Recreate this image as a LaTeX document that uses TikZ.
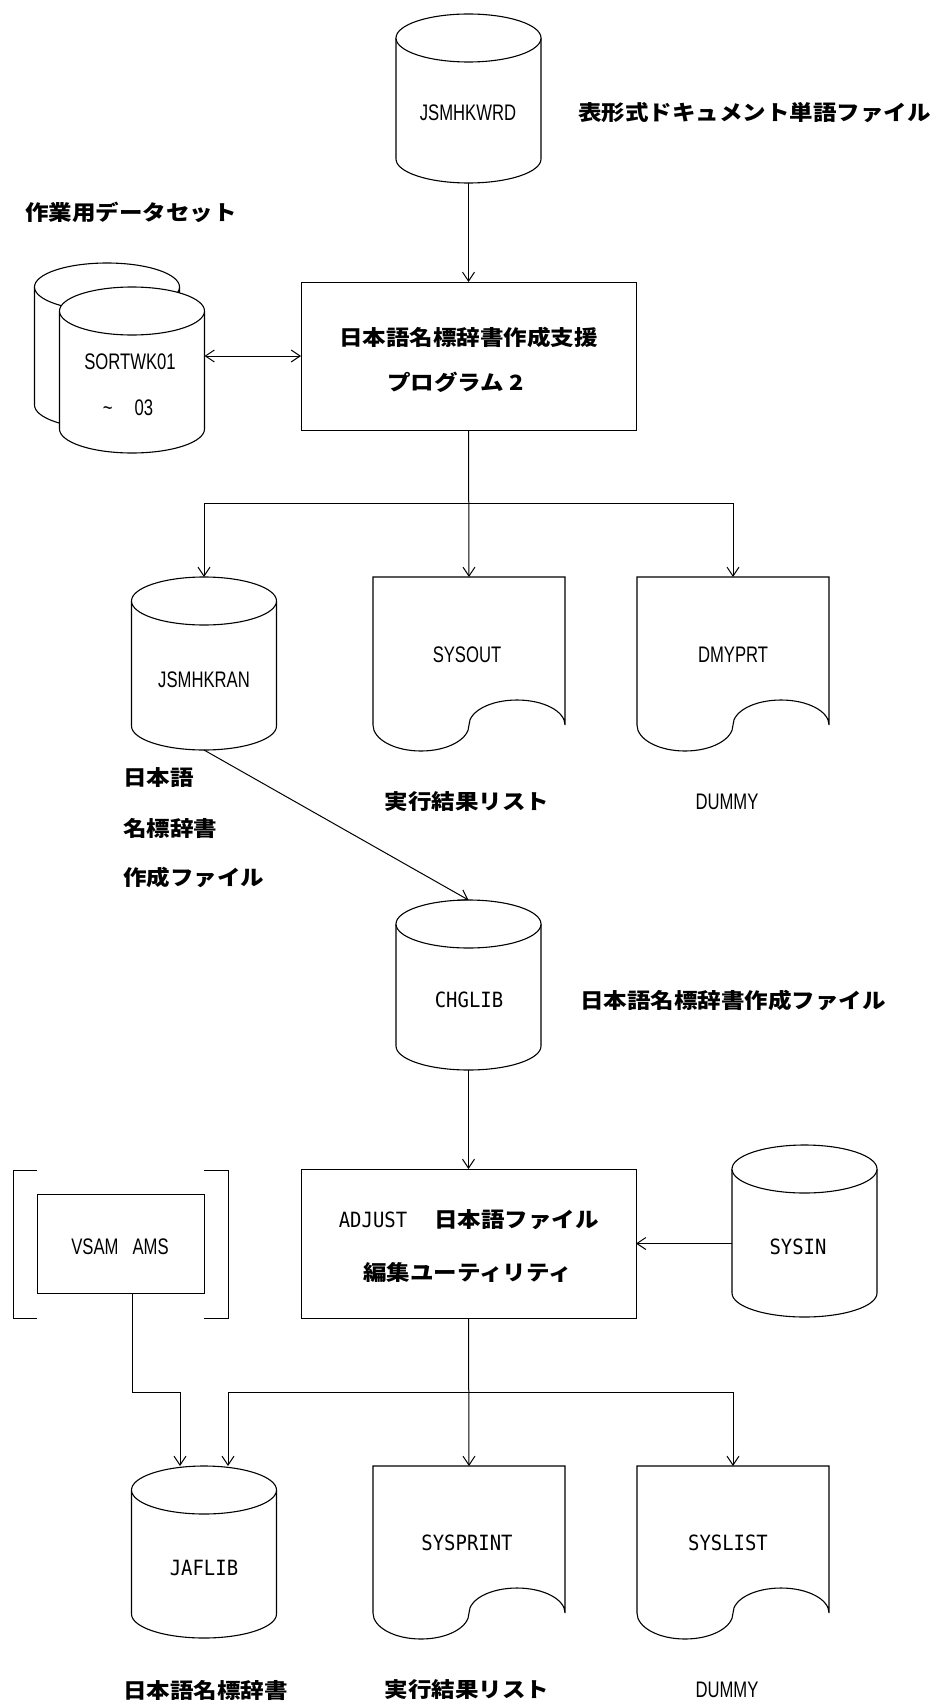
\documentclass[tikz,border=0pt]{standalone}
\usepackage{fontspec}
\usetikzlibrary{arrows.meta,calc}
\newfontfamily\cjk[FakeStretch=1.12]{Noto Sans CJK JP}
\newfontfamily\lsans[FakeStretch=0.74]{Liberation Sans}
\newfontfamily\lmono[FakeStretch=0.9]{DejaVu Sans Mono}
\tikzset{
  shp/.style={line width=1.1pt, fill=white},
  barb/.tip={Straight Barb[length=9pt,width=12pt,line width=1pt]},
  arr/.style={line width=1pt, -barb},
  arrboth/.style={line width=1pt, barb-barb},
  conn/.style={line width=1pt},
  jp/.style={font=\cjk\bfseries\fontsize{21}{21}\selectfont, inner sep=0},
  lab/.style={font=\lsans\fontsize{22.5}{22.5}\selectfont, inner sep=0},
  mono/.style={font=\lmono\fontsize{21}{21}\selectfont, inner sep=0},
  frame/.style={draw=none, inner sep=0, outer sep=0},
  boxs/.style={draw, line width=0.9pt, fill=white, inner sep=0, outer sep=0},
}
\newcommand\dbcyl[4]{%
  \node[frame, minimum width=145pt, minimum height={#4-#3}] (#1) at (#2,{(#3+#4)/2}) {};
  \draw[shp] ({#2-72.5},{#3+24}) -- ({#2-72.5},{#4-24}) arc[start angle=180,end angle=360,x radius=72.5pt,y radius=24pt] -- ({#2+72.5},{#3+24});
  \draw[shp] (#2,{#3+24}) ellipse[x radius=72.5pt,y radius=24pt];
}
\newcommand\docshape[5]{%
  \node[frame, minimum width={#3-#2}, minimum height={#5-#4}] (#1) at ({(#2+#3)/2},{(#4+#5)/2}) {};
  \draw[shp] (#2,#5) -- (#2,#4) -- (#3,#4) -- (#3,#5) arc[start angle=0,end angle=180,x radius=48pt,y radius=25pt] arc[start angle=0,end angle=-180,x radius=48pt,y radius=26pt] -- cycle;
}
\begin{document}
\begin{tikzpicture}[x=1pt,y=-1pt]
\useasboundingbox (0,0) rectangle (940,1704);

% top input
\dbcyl{jsmhkwrd}{468.5}{14}{183}
\node[lab] (tjsmhkwrd) at (468,113) {JSMHKWRD};
\node[jp, anchor=west] (ljsmhkwrd) at (578,113) {表形式ドキュメント単語ファイル};

% work datasets
\node[jp, anchor=west] (lwork) at (25,212) {作業用データセット};
\dbcyl{sortback}{107}{263}{429}
\dbcyl{sortwk}{132}{287}{453}
\node[lab] (tsort1) at (130,362) {SORTWK01};
\node[lab] (tsort2) at (128,408) {\textasciitilde\hspace{22pt}03};

% program 1
\node[boxs, minimum width=335pt, minimum height=148pt] (box1) at (468.5,356) {};
\node[jp] (tbox1a) at (468.5,337) {日本語名標辞書作成支援};
\node[jp, anchor=west] (tbox1b) at (387,382) {プログラム 2};

\draw[arr] (jsmhkwrd.south) -- (box1.north);
\draw[arrboth] (sortwk.east |- box1.west) -- (box1.west);

% outputs 1
\dbcyl{jsmhkran}{204}{577}{750}
\docshape{sysout}{373}{565}{577}{725}
\docshape{dmyprt}{637}{829}{577}{725}
\node[lab] (tjsmhkran) at (204,680) {JSMHKRAN};
\node[lab] (tsysout) at (467,655) {SYSOUT};
\node[lab] (tdmyprt) at (733,655) {DMYPRT};
\coordinate (br1) at (468.5,503);
\draw[arr] (box1.south) -- (sysout.north);
\draw[arr] (br1) -| (jsmhkran.north);
\draw[arr] (br1) -| (dmyprt.north);

\node[jp, anchor=west] (lran1) at (123,778) {日本語};
\node[jp, anchor=west] (lran2) at (123,828) {名標辞書};
\node[jp, anchor=west] (lran3) at (123,877) {作成ファイル};
\node[jp] (lsysout) at (467,802) {実行結果リスト};
\node[lab] (ldmy1) at (727,802) {DUMMY};

% CHGLIB
\dbcyl{chglib}{468.5}{900}{1070}
\node[mono] (tchglib) at (469,1000) {CHGLIB};
\node[jp, anchor=west] (lchglib) at (580,1000) {日本語名標辞書作成ファイル};
\draw[arr] (jsmhkran.south) -- (chglib.north);

% program 2
\node[boxs, minimum width=335pt, minimum height=149pt] (box2) at (468.5,1243.5) {};
\node[mono] (tadjust) at (373,1220) {ADJUST};
\node[jp, anchor=west] (tbox2a) at (434,1220) {日本語ファイル};
\node[jp] (tbox2b) at (467.5,1272) {編集ユーティリティ};
\draw[arr] (chglib.south) -- (box2.north);

\dbcyl{sysin}{804.5}{1145}{1317}
\node[mono] (tsysin) at (798,1247) {SYSIN};
\draw[arr] (sysin.west |- box2.east) -- (box2.east);

% VSAM AMS
\node[boxs, minimum width=167pt, minimum height=99pt] (vsam) at (120.5,1243.5) {};
\node[lab] (tvsam) at (120,1247) {VSAM\hspace{14pt}AMS};
\draw[conn] (37,1170) -- (13,1170) -- (13,1318) -- (37,1318);
\draw[conn] (204,1170) -- (228,1170) -- (228,1318) -- (204,1318);

% outputs 2
\dbcyl{jaflib}{204}{1466}{1638}
\docshape{sysprint}{373}{565}{1466}{1613}
\docshape{syslist}{637}{829}{1466}{1613}
\node[mono] (tjaflib) at (204,1568) {JAFLIB};
\node[mono] (tsysprint) at (467,1543) {SYSPRINT};
\node[mono] (tsyslist) at (728,1543) {SYSLIST};

\coordinate (br2) at (468.5,1392);
\coordinate (jafin1) at ($(jaflib.north)+(-24,0)$);
\coordinate (jafin2) at ($(jaflib.north)+(24,0)$);
\coordinate (vsamout) at ($(vsam.south west)+(95,0)$);
\draw[arr] (box2.south) -- (sysprint.north);
\draw[arr] (br2) -| (jafin2);
\draw[arr] (br2) -| (syslist.north);
\draw[arr] (vsamout) -- (vsamout |- br2) -| (jafin1);

\node[jp, anchor=west] (ljaf) at (123,1690) {日本語名標辞書};
\node[jp] (lsysprint) at (467,1690) {実行結果リスト};
\node[lab] (ldmy2) at (727,1690) {DUMMY};
\end{tikzpicture}
\end{document}
